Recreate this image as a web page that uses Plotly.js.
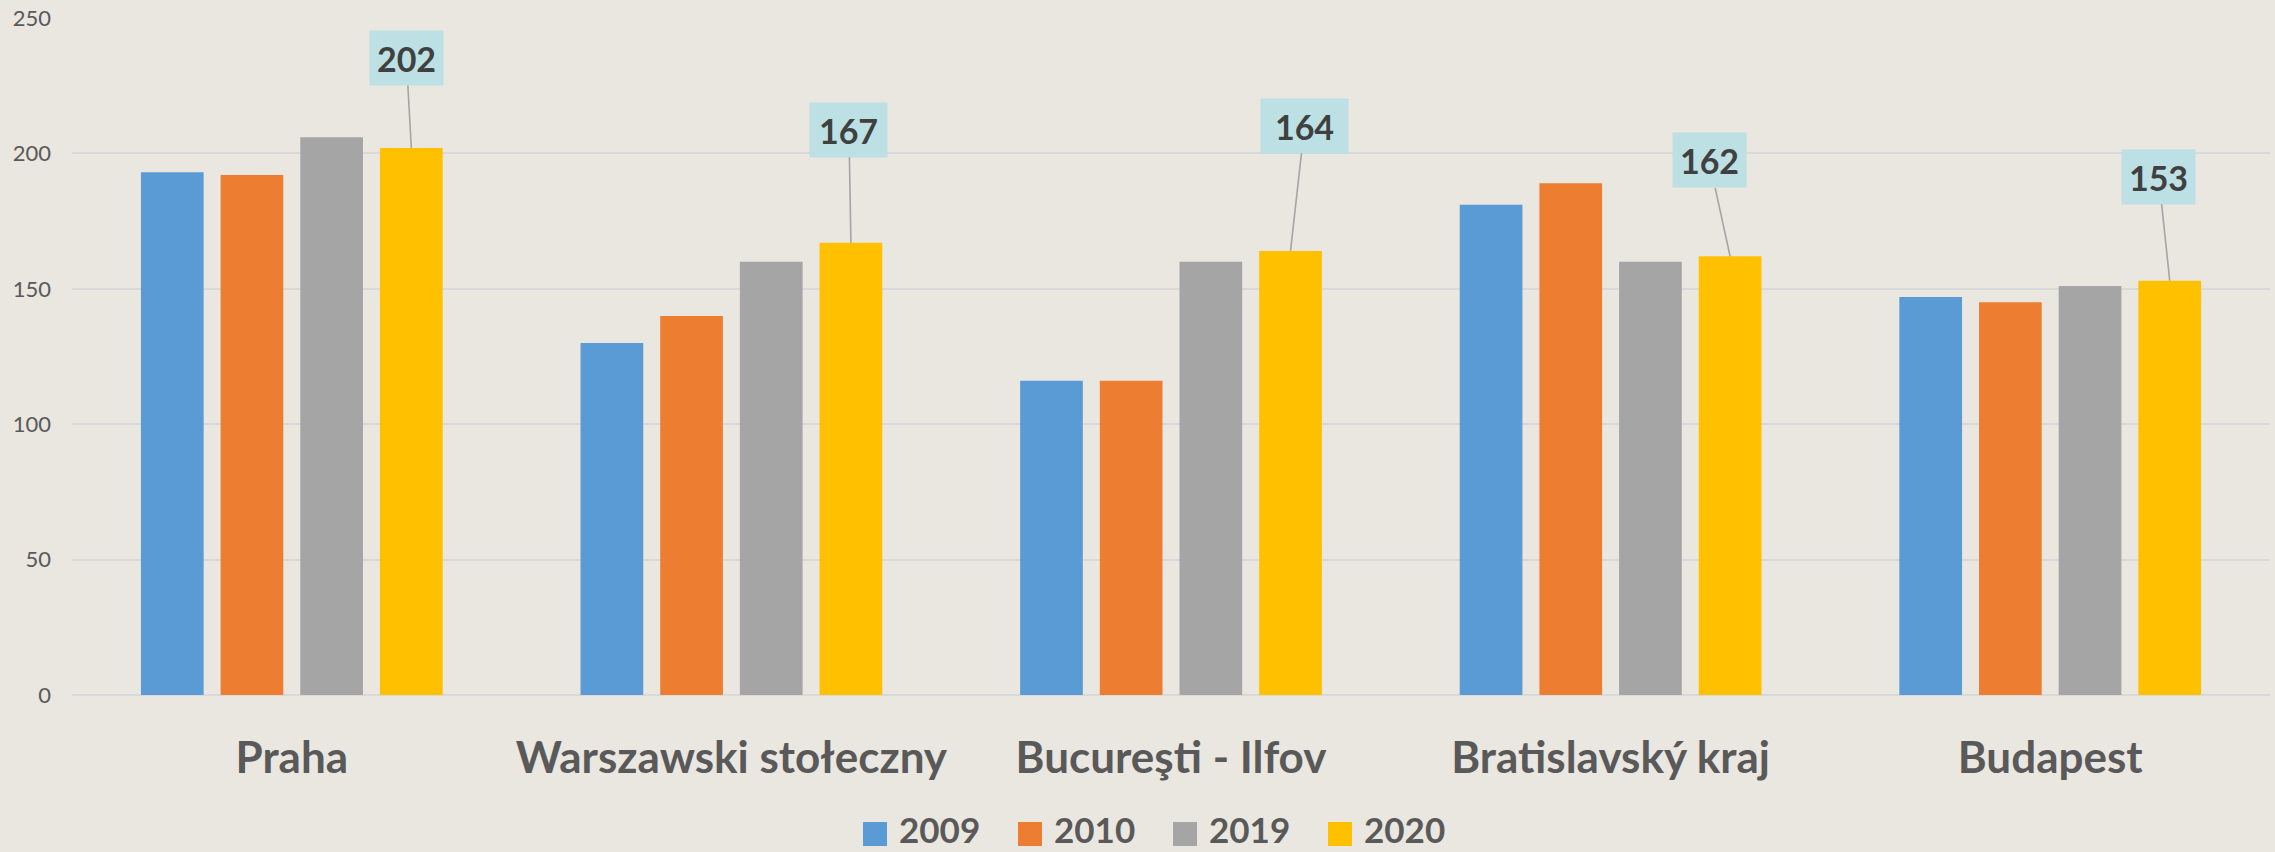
<!DOCTYPE html>
<html><head><meta charset="utf-8">
<script src="https://cdn.plot.ly/plotly-3.0.1.min.js"></script>
<style>html,body{margin:0;padding:0;background:#EAE6E0;overflow:hidden;}</style>
</head><body><div id="chart" style="width:2275px;height:852px;"></div>
<script>
// ---- data ----
const categories = ["Praha", "Warszawski stołeczny", "Bucureşti - Ilfov", "Bratislavský kraj", "Budapest"];
const years = ["2009", "2010", "2019", "2020"];
const v2009 = [193, 130, 116, 181, 147];
const v2010 = [192, 140, 116, 189, 145];
const v2019 = [206, 160, 160, 160, 151];
const v2020 = [202, 167, 164, 162, 153];
const yTicks = [0, 50, 100, 150, 200, 250];

// ---- style ----
const colors = ["#5B9BD5", "#ED7D31", "#A5A5A5", "#FFC000"];
const series = [v2009, v2010, v2019, v2020];
const FONT = "Lato, 'Open Sans', sans-serif";
const bargap = 0.275, bargroupgap = 0.213;
const W = 2275, H = 852;
const M = {l: 72, r: 5, t: 18, b: 157};
const plotW = W - M.l - M.r, plotH = H - M.t - M.b;
const calloutStyle = {
  ax: [-5, -2, 14, -21, -11],
  ay: [-90, -113, -125, -96, -104],
  w: [73, 77, 87, 73, 73]
};

const traces = series.map((vals, i) => ({
  type: "bar",
  name: years[i],
  x: categories,
  y: vals,
  marker: {color: colors[i], line: {width: 0}},
  hoverinfo: "skip",
  showlegend: false
}));

// callouts on 2020 series
const slot = (1 - bargap) / series.length;
const lastOffset = slot * (series.length - 1 - (series.length - 1) / 2);
const annotations = v2020.map((v, i) => ({
  xref: "x", yref: "y",
  x: i + lastOffset, y: v,
  text: String(v),
  showarrow: true, arrowhead: 0, arrowwidth: 1.6, arrowcolor: "#A5A5A5", standoff: 0,
  ax: calloutStyle.ax[i], ay: calloutStyle.ay[i],
  bgcolor: "#BCE0E3", borderpad: 0,
  width: calloutStyle.w[i], height: 54,
  font: {family: FONT, size: 34, color: "#404040", weight: "bold"}
}));

// legend built from series names/colours
const px2x = px => (px - M.l) / plotW;
const px2y = py => (H - M.b - py) / plotH;
const legStart = 863, legStep = 155, sq = 24, legMid = 834;
const shapes = [];
years.forEach((yr, i) => {
  const x0 = legStart + i * legStep;
  shapes.push({type: "rect", xref: "paper", yref: "paper",
    x0: px2x(x0), x1: px2x(x0 + sq), y0: px2y(legMid + sq / 2), y1: px2y(legMid - sq / 2),
    fillcolor: colors[i], line: {width: 0}});
  annotations.push({xref: "paper", yref: "paper", x: px2x(x0 + 35), y: px2y(851),
    xanchor: "left", yanchor: "bottom", showarrow: false, text: yr, borderpad: 0,
    font: {family: FONT, size: 35, color: "#595959", weight: "bold"}});
});

const layout = {
  width: W, height: H,
  margin: M,
  paper_bgcolor: "#EAE6E0", plot_bgcolor: "#EAE6E0",
  barmode: "group", bargap: bargap, bargroupgap: bargroupgap,
  showlegend: false,
  xaxis: {
    type: "category", showgrid: false, zeroline: false, showline: false, ticks: "",
    tickfont: {family: FONT, size: 44, color: "#595959", weight: "bold"},
    ticklabelstandoff: 33, fixedrange: true
  },
  yaxis: {
    range: [0, 250], tickvals: yTicks, ticktext: yTicks.map(String),
    showgrid: true, gridcolor: "#D9D9D9", gridwidth: 2,
    zeroline: true, zerolinecolor: "#D9D9D9", zerolinewidth: 2,
    showline: false, ticks: "",
    tickfont: {family: FONT, size: 22, color: "#595959"},
    ticklabelstandoff: 20, fixedrange: true
  },
  annotations: annotations,
  shapes: shapes,
  hovermode: false
};

Plotly.newPlot("chart", traces, layout, {staticPlot: true, displayModeBar: false});
</script>
</body></html>
